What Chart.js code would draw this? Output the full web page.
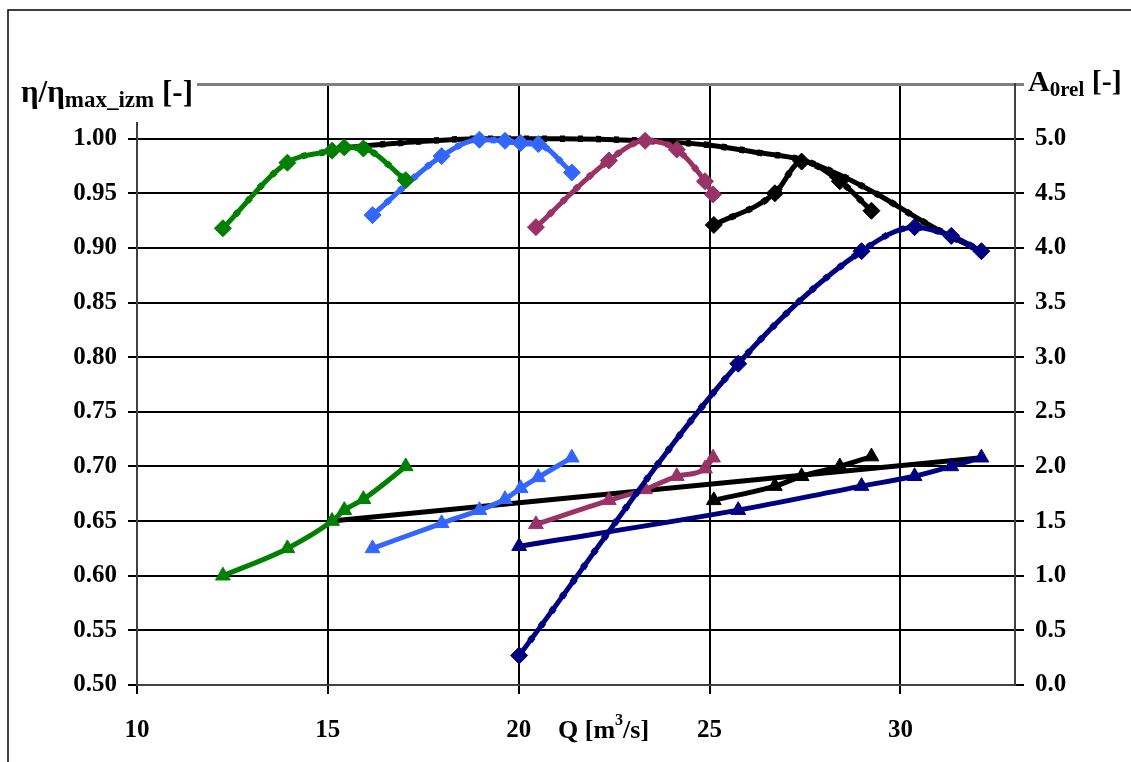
<!DOCTYPE html>
<html>
<head>
<meta charset="utf-8">
<script src="https://cdn.jsdelivr.net/npm/chart.js@4.4.0/dist/chart.umd.min.js"></script>
<style>
  body { margin: 0; background: #fff; }
  #wrap { width: 1131px; height: 762px; }
</style>
</head>
<body>
<div id="wrap"><canvas id="chart" width="1131" height="762"></canvas></div>
<script>
// Q [m3/s] and values
const qGreen = [12.25, 13.94, 15.11, 15.43, 15.93, 17.04];
const etaGreen = [0.918, 0.978, 0.989, 0.992, 0.991, 0.962];
const a0Green = [1.0, 1.25, 1.5, 1.6, 1.7, 2.0];

const qBlue = [16.17, 17.98, 18.97, 19.64, 20.05, 20.51, 21.39];
const etaBlue = [0.930, 0.984, 0.999, 0.998, 0.996, 0.995, 0.969];
const a0Blue = [1.25, 1.48, 1.6, 1.7, 1.8, 1.9, 2.08];

const qMagenta = [20.45, 22.36, 23.31, 24.14, 24.88, 25.09];
const etaMagenta = [0.919, 0.980, 0.998, 0.990, 0.961, 0.949];
const a0Magenta = [1.47, 1.69, 1.79, 1.91, 1.98, 2.08];

const qBlack = [25.11, 26.71, 27.41, 28.41, 29.24];
const etaBlack = [0.921, 0.950, 0.979, 0.961, 0.934];
const a0Black = [1.69, 1.82, 1.91, 2.0, 2.09];

const qNavy = [20.01, 25.75, 28.98, 30.37, 31.33, 32.12];
const a0NavyOpen = [0.27, 2.94, 3.97, 4.19, 4.11, 3.97];
const a0Navy = [1.27, 1.6, 1.82, 1.91, 2.0, 2.08];

const qEnvelope = [15.43, 16.89, 18.98, 21.07, 23.30, 25.0, 26.31, 27.36, 28.40, 29.45, 30.50, 31.34, 32.12];
const etaEnvelope = [0.992, 0.996, 1.0, 1.0, 0.998, 0.994, 0.987, 0.981, 0.967, 0.948, 0.926, 0.910, 0.897];

const qLine = [15.1, 32.12];
const a0Line = [1.5, 2.08];

const xTicks = [10, 15, 20, 25, 30];

const FONT = "'Liberation Serif', 'Times New Roman', serif";

function pts(q, v) {
    return q.map((x, i) => ({ x: x, y: v[i] }));
}

function curve(q, v, color, axis, style) {
    return {
        data: pts(q, v),
        yAxisID: axis,
        borderColor: color,
        backgroundColor: color,
        borderWidth: 5,
        pointStyle: style,
        pointRadius: style ? 8.5 : 0,
        pointBorderWidth: 1,
        cubicInterpolationMode: 'monotone',
        fill: false
    };
}

// thicker dashed copy, gives the little bumps along the lines
function bumps(q, v, color, axis) {
    return {
        data: pts(q, v),
        yAxisID: axis,
        borderColor: color,
        borderWidth: 6.5,
        borderDash: [5, 13],
        pointRadius: 0,
        cubicInterpolationMode: 'monotone',
        fill: false
    };
}

const datasets = [
    curve(qGreen, etaGreen, '#008000', 'y', 'rectRot'),
    bumps(qGreen, etaGreen, '#008000', 'y'),
    curve(qBlue, etaBlue, '#3366FF', 'y', 'rectRot'),
    bumps(qBlue, etaBlue, '#3366FF', 'y'),
    curve(qMagenta, etaMagenta, '#993366', 'y', 'rectRot'),
    bumps(qMagenta, etaMagenta, '#993366', 'y'),
    curve(qBlack, etaBlack, '#000000', 'y', 'rectRot'),
    bumps(qBlack, etaBlack, '#000000', 'y'),
    curve(qNavy, a0NavyOpen, '#000080', 'y2', 'rectRot'),
    bumps(qNavy, a0NavyOpen, '#000080', 'y2'),
    curve(qEnvelope, etaEnvelope, '#000000', 'y', false),
    bumps(qEnvelope, etaEnvelope, '#000000', 'y'),
    curve(qGreen, a0Green, '#008000', 'y2', 'triangle'),
    curve(qBlue, a0Blue, '#3366FF', 'y2', 'triangle'),
    curve(qMagenta, a0Magenta, '#993366', 'y2', 'triangle'),
    curve(qBlack, a0Black, '#000000', 'y2', 'triangle'),
    curve(qNavy, a0Navy, '#000080', 'y2', 'triangle'),
    curve(qLine, a0Line, '#000000', 'y2', false)
];

const frameAndTitles = {
    id: 'frameAndTitles',
    beforeDraw(chart) {
        const c = chart.ctx;
        c.save();
        c.fillStyle = '#fff';
        c.fillRect(0, 0, chart.width, chart.height);
        c.restore();
    },
    afterDraw(chart) {
        const c = chart.ctx;
        c.save();
        // outer frame
        c.strokeStyle = '#000';
        c.lineWidth = 1.5;
        c.beginPath();
        c.moveTo(8, 762);
        c.lineTo(8, 10);
        c.lineTo(1131, 10);
        c.stroke();

        // left title over a white box
        c.fillStyle = '#fff';
        c.fillRect(12, 40, 185, 82);
        c.fillStyle = '#000';
        c.textBaseline = 'alphabetic';
        c.font = 'bold 31px ' + FONT;
        let x = 21;
        c.fillText('η/η', x, 102);
        x += c.measureText('η/η').width;
        c.font = 'bold 23px ' + FONT;
        c.fillText('max_izm', x, 107);
        x += c.measureText('max_izm').width;
        c.font = 'bold 31px ' + FONT;
        c.fillText(' [-]', x, 102);

        // right title
        c.font = 'bold 30px ' + FONT;
        x = 1028;
        c.fillText('A', x, 91);
        x += c.measureText('A').width;
        c.font = 'bold 21px ' + FONT;
        c.fillText('0rel', x, 96);
        x += c.measureText('0rel').width;
        c.font = 'bold 30px ' + FONT;
        c.fillText(' [-]', x, 91);

        // x title
        c.font = 'bold 26px ' + FONT;
        x = 558;
        c.fillText('Q [m', x, 738);
        x += c.measureText('Q [m').width;
        c.font = 'bold 16px ' + FONT;
        c.fillText('3', x, 725);
        x += c.measureText('3').width;
        c.font = 'bold 26px ' + FONT;
        c.fillText('/s]', x, 738);
        c.restore();
    }
};

const topIndex = 11;

new Chart(document.getElementById('chart').getContext('2d'), {
    type: 'line',
    data: { datasets: datasets },
    options: {
        responsive: false,
        animation: false,
        layout: { padding: { top: 84, left: 0, right: 0, bottom: 0 } },
        plugins: { legend: { display: false }, tooltip: { enabled: false } },
        scales: {
            x: {
                type: 'linear',
                min: 10,
                max: 33,
                afterBuildTicks: s => { s.ticks = xTicks.map(v => ({ value: v })); },
                afterFit: s => { s.height = 77; },
                grid: { color: '#000', lineWidth: 2, tickLength: 9 },
                border: { color: '#404040', width: 2 },
                ticks: {
                    color: '#000',
                    padding: 22,
                    maxRotation: 0,
                    font: { family: FONT, size: 25, weight: 'bold' }
                }
            },
            y: {
                position: 'left',
                min: 0.5,
                max: 1.05,
                afterFit: s => { s.width = 137; },
                grid: {
                    color: c => c.index === topIndex ? '#808080' : '#000',
                    lineWidth: c => c.index === topIndex ? 3 : 2,
                    tickLength: 9
                },
                border: { color: '#404040', width: 2 },
                ticks: {
                    stepSize: 0.05,
                    color: '#000',
                    padding: 11,
                    font: { family: FONT, size: 25, weight: 'bold' },
                    callback: (v, i) => i === topIndex ? '' : v.toFixed(2)
                }
            },
            y2: {
                position: 'right',
                min: 0,
                max: 5.5,
                afterFit: s => { s.width = 116; },
                grid: {
                    drawOnChartArea: false,
                    color: c => c.index === topIndex ? '#808080' : '#000',
                    lineWidth: c => c.index === topIndex ? 3 : 2,
                    tickLength: 9
                },
                border: { color: '#404040', width: 2 },
                ticks: {
                    stepSize: 0.5,
                    color: '#000',
                    padding: 11,
                    font: { family: FONT, size: 25, weight: 'bold' },
                    callback: (v, i) => i === topIndex ? '' : v.toFixed(1)
                }
            }
        }
    },
    plugins: [frameAndTitles]
});
</script>
</body>
</html>
